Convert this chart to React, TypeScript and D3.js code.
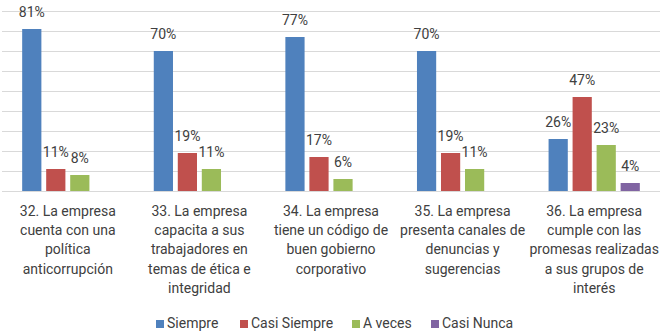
import React from "react";
import * as d3 from "d3";

const categories = [
  ["32. La empresa", "cuenta con una", "política", "anticorrupción"],
  ["33. La empresa", "capacita a sus", "trabajadores en", "temas de ética e", "integridad"],
  ["34. La empresa", "tiene un código de", "buen gobierno", "corporativo"],
  ["35. La empresa", "presenta canales de", "denuncias y", "sugerencias"],
  ["36. La empresa", "cumple con las", "promesas realizadas", "a sus grupos de", "interés"],
];
const seriesNames = ["Siempre", "Casi Siempre", "A veces", "Casi Nunca"];
const seriesColors = ["#4F81BD", "#C0504D", "#9BBB59", "#8064A2"];
const siempre = [81, 70, 77, 70, 26];
const casiSiempre = [11, 19, 17, 19, 47];
const aVeces = [8, 11, 6, 11, 23];
const casiNunca = [0, 0, 0, 0, 4];
const gridTicks = [0, 10, 20, 30, 40, 50, 60, 70, 80, 90];

const W = 670;
const H = 334;
const FONT = "Roboto, 'DejaVu Sans', sans-serif";
const TEXT = "#404040";

export default function App() {
  const values = [siempre, casiSiempre, aVeces, casiNunca];
  const idx = categories.map((_, i) => i);
  const x = d3.scaleBand<number>().domain(idx).range([2, 660]).padding(0);
  const xs = d3
    .scaleBand<number>()
    .domain(seriesNames.map((_, i) => i))
    .range([0, x.bandwidth()])
    .paddingInner(0.2)
    .paddingOuter(0.84);
  const y = d3.scaleLinear().domain([0, 90]).range([191, 11]);

  const legendX = [156, 240, 352, 431];

  return (
    <svg
      width={W}
      height={H}
      style={{ position: "absolute", left: 0, top: 0, background: "#fff" }}
      fontFamily={FONT}
    >
      {gridTicks.map((t) => (
        <line
          key={t}
          x1={2}
          x2={660}
          y1={Math.round(y(t)) + 0.5}
          y2={Math.round(y(t)) + 0.5}
          stroke="#D9D9D9"
          strokeWidth={1}
        />
      ))}
      {idx.map((ci) =>
        values.map((arr, si) => {
          const v = arr[ci];
          if (!v) return null;
          const bx = (x(ci) as number) + (xs(si) as number);
          const bw = xs.bandwidth();
          return (
            <g key={`${ci}-${si}`}>
              <rect x={bx} y={y(v)} width={bw} height={y(0) - y(v)} fill={seriesColors[si]} />
              <text
                x={bx + bw / 2}
                y={y(v) - 12}
                textAnchor="middle"
                fontSize={14}
                fill={TEXT}
              >
                {v}%
              </text>
            </g>
          );
        })
      )}
      {categories.map((lines, ci) => (
        <text
          key={ci}
          x={(x(ci) as number) + x.bandwidth() / 2}
          textAnchor="middle"
          fontSize={14}
          fill={TEXT}
        >
          {lines.map((l, li) => (
            <tspan key={li} x={(x(ci) as number) + x.bandwidth() / 2} y={216 + li * 19.2}>
              {l}
            </tspan>
          ))}
        </text>
      ))}
      {seriesNames.map((s, si) => (
        <g key={s}>
          <rect x={legendX[si]} y={320} width={8} height={8} fill={seriesColors[si]} />
          <text x={legendX[si] + 11} y={328.3} fontSize={14} fill={TEXT}>
            {s}
          </text>
        </g>
      ))}
    </svg>
  );
}
